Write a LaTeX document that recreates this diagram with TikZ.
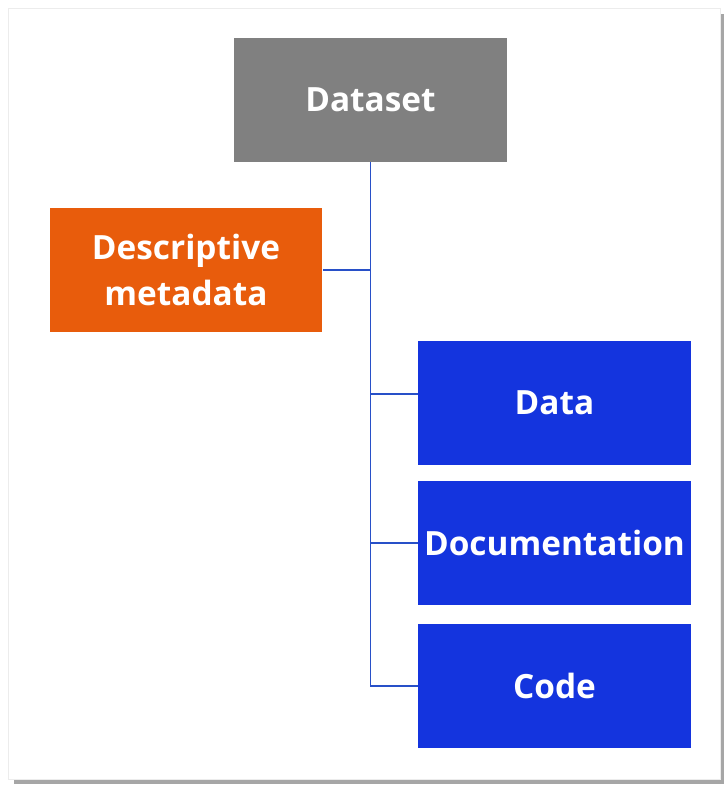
\documentclass[tikz,border=0pt]{standalone}
\usepackage{fontspec}
\setmainfont{Open Sans}
\definecolor{setgray}{RGB}{128, 128, 128}
\definecolor{metaorange}{RGB}{232, 92, 12}
\definecolor{partblue}{RGB}{20, 52, 222}
\definecolor{linkblue}{RGB}{40, 80, 200}
\usetikzlibrary{positioning, calc}

\tikzset{
  box/.style={minimum width=5.46cm, minimum height=2.48cm, inner sep=0pt, align=center,
    text=white, font=\fontsize{19}{26}\selectfont\bfseries},
  link/.style={draw=linkblue, line width=1.1pt}
}

\begin{document}
\begin{tikzpicture}[x=0.02cm, y=-0.02cm]
  % page with drop shadow
  \useasboundingbox (0,0) rectangle (727,786);
  \fill[gray!70] (14,14) rectangle (724,784);
  \fill[white, draw=gray!15] (8,8) rectangle (720,779);

  % boxes
  \node[box, fill=setgray] (dataset) at (370.5,100) {Dataset};
  \node[box, fill=metaorange] (meta) at (186,270) {Descriptive\\metadata};
  \node[box, fill=partblue] (data) at (554.5,403) {Data};
  \node[box, fill=partblue, below=0.3cm of data] (docu) {Documentation};
  \node[box, fill=partblue, below=0.38cm of docu] (code) {Code};

  % tree lines
  \draw[link] (dataset.south) |- (code.west);
  \draw[link] (meta.east) -- (meta.east -| dataset.south);
  \draw[link] ([yshift=0.18cm]data.west) -- ([yshift=0.18cm]data.west -| dataset.south);
  \draw[link] (docu.west) -- (docu.west -| dataset.south);
\end{tikzpicture}
\end{document}
